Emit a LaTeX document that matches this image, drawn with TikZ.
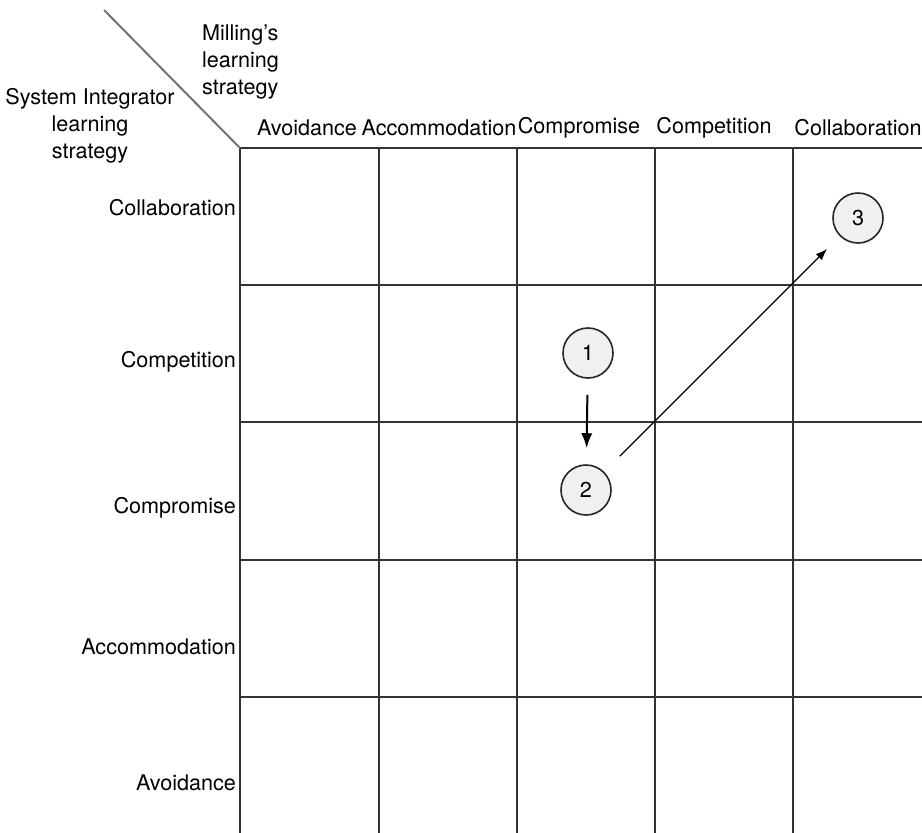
\documentclass[tikz,border=0pt]{standalone}
\usepackage{fontspec}
\setmainfont{TeX Gyre Heros}
\usetikzlibrary{arrows.meta, positioning}

\begin{document}
\begin{tikzpicture}[x=0.5pt, y=-0.5pt, >=Latex,
            every node/.style={font=\fontsize{10.8}{13.4}\selectfont},
            stage/.style={circle, draw=black!85, fill=gray!12, line width=0.8pt,
            minimum size=25pt, inner sep=0pt},
            gridline/.style={line width=1.1pt, draw=black!80}]
          \useasboundingbox (0,0) rectangle (922,832);
          % matrix lines
          \foreach \x in {240,379,517,655,793}
            \draw[gridline] (\x,148) -- (\x,840);
          \foreach \y in {148,285,422,560,697}
            \draw[gridline] (240,\y) -- (930,\y);
          % corner header
          \coordinate (corner) at (240,148);
          \coordinate (tip) at (104,10);
          \draw[line width=1pt, draw=black!55] (tip) -- (corner);
          \node[anchor=west, align=left] (milling) at (195,62)
            {Milling's\\learning\\strategy};
          \node[align=center] (integrator) at (90,126)
            {System Integrator\\learning\\strategy};
          % column heads
          \node (cavoid) at (307,128) {Avoidance};
          \node (caccom) at (439,128) {Accommodation};
          \node (ccompr) at (579,128) {Compromise};
          \node (ccompe) at (714,128) {Competition};
          \node (ccolla) at (858,128) {Collaboration};
          % row heads
          \node[anchor=east] (rcolla) at (243,208) {Collaboration};
          \node[anchor=east] (rcompe) at (243,362) {Competition};
          \node[anchor=east] (rcompr) at (243,508) {Compromise};
          \node[anchor=east] (raccom) at (243,647) {Accommodation};
          \node[anchor=east] (ravoid) at (243,783) {Avoidance};
          % moves
          \node[stage] (s1) at (588,353) {1};
          \node[stage] (s2) at (586,490) {2};
          \node[stage] (s3) at (858,218) {3};
          \draw[->, line width=1pt, shorten <=8pt, shorten >=8pt] (s1) -- (s2);
          \draw[->, line width=0.6pt, shorten <=11pt, shorten >=9pt] (s2) -- (s3);
        \end{tikzpicture}
\end{document}
